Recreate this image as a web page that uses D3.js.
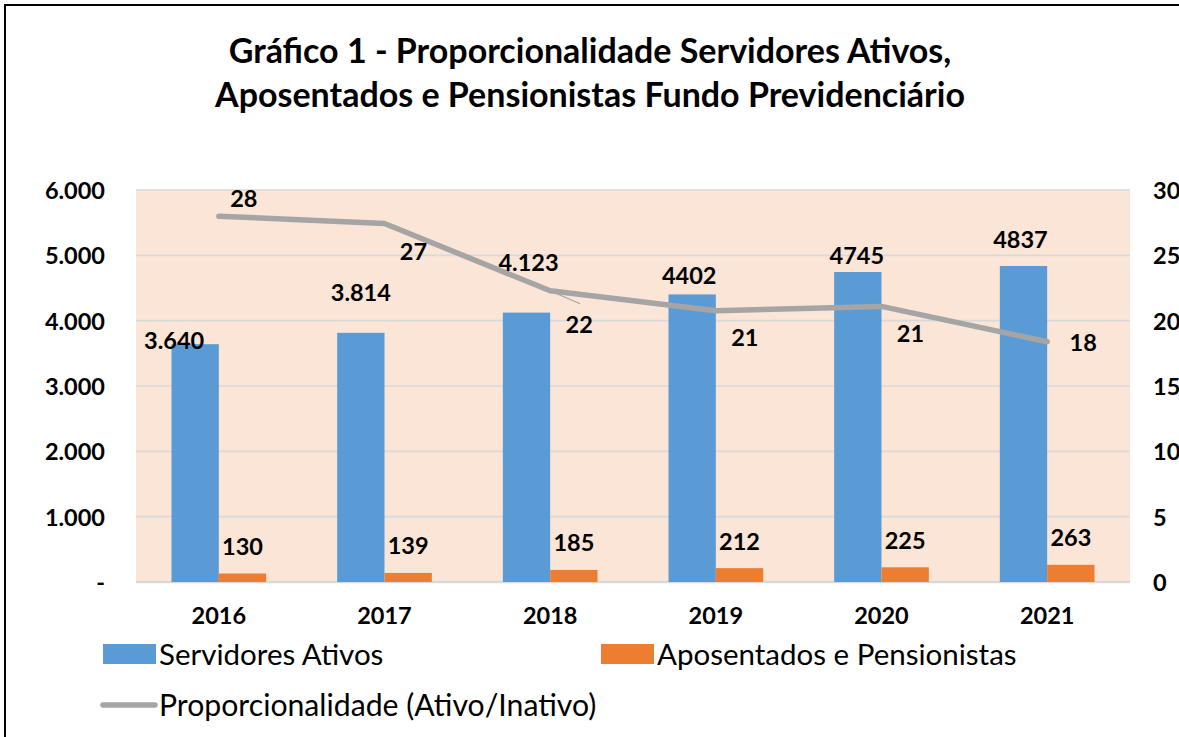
<!DOCTYPE html>
<html>
<head>
<meta charset="utf-8">
<script src="https://cdn.jsdelivr.net/npm/d3@7"></script>
<style>
  body { margin: 0; background: #fff; }
  svg { display: block; }
</style>
</head>
<body>
<script>
// data
var years = ["2016", "2017", "2018", "2019", "2020", "2021"];
var ativos = [3640, 3814, 4123, 4402, 4745, 4837];
var ativosLabels = ["3.640", "3.814", "4.123", "4402", "4745", "4837"];
var inativos = [130, 139, 185, 212, 225, 263];
var proporcao = [28.00, 27.44, 22.29, 20.76, 21.09, 18.39];
var leftTicks = [0, 1000, 2000, 3000, 4000, 5000, 6000];
var leftTickLabels = ["-", "1.000", "2.000", "3.000", "4.000", "5.000", "6.000"];
var rightTicks = [0, 5, 10, 15, 20, 25, 30];

// label placement (Excel had these dragged by hand)
var ativosLabelShift = [[-21, -4], [0, -40], [2, -50], [-3, -19], [-1, -16], [-3, -26]];
var propLabelShift = [[25, -18], [29, 28], [29, 34], [29, 27], [29, 27], [36, 1]];

var width = 1179, height = 737;
var fontBold = "Lato, 'Open Sans', sans-serif";

var svg = d3.select("body").append("svg")
    .attr("width", width)
    .attr("height", height);

svg.append("rect")
    .attr("x", 5).attr("y", 5)
    .attr("width", width).attr("height", height + 10)
    .attr("fill", "#fff")
    .attr("stroke", "#000")
    .attr("stroke-width", 2);

var plot = { left: 136, right: 1130, top: 190, bottom: 582 };

var x = d3.scaleBand().domain(years).range([plot.left, plot.right]);
var xs = d3.scaleBand().domain(["a", "i"]).range([0, x.bandwidth()]).paddingOuter(0.75);
var yL = d3.scaleLinear().domain([0, 6000]).range([plot.bottom, plot.top]);
var yR = d3.scaleLinear().domain([0, 30]).range([plot.bottom, plot.top]);

// title
var title = svg.append("text")
    .attr("text-anchor", "middle")
    .attr("font-family", fontBold)
    .attr("font-weight", "bold")
    .attr("font-size", 34)
    .attr("fill", "#000");
title.append("tspan").attr("x", 590).attr("y", 63).text("Gráfico 1 - Proporcionalidade Servidores Ativos,");
title.append("tspan").attr("x", 590).attr("y", 107).text("Aposentados e Pensionistas Fundo Previdenciário");

// plot background
svg.append("rect")
    .attr("x", plot.left).attr("y", plot.top)
    .attr("width", plot.right - plot.left)
    .attr("height", plot.bottom - plot.top)
    .attr("fill", "#FBE5D6");

svg.append("g").selectAll("line")
    .data(leftTicks)
    .join("line")
    .attr("x1", plot.left).attr("x2", plot.right)
    .attr("y1", d => yL(d)).attr("y2", d => yL(d))
    .attr("stroke", "#D9D9D9")
    .attr("stroke-width", d => d === 0 ? 2.5 : 1.6);

// axes
var leftAxis = svg.append("g")
    .attr("transform", `translate(${plot.left - 31},0)`)
    .call(d3.axisLeft(yL).tickValues(leftTicks).tickSize(0).tickPadding(0)
        .tickFormat((d, i) => leftTickLabels[i]));
leftAxis.select(".domain").remove();

var rightAxis = svg.append("g")
    .attr("transform", `translate(${plot.right + 23},0)`)
    .call(d3.axisRight(yR).tickValues(rightTicks).tickSize(0).tickPadding(0));
rightAxis.select(".domain").remove();

var bottomAxis = svg.append("g")
    .attr("transform", `translate(0,${plot.bottom + 34})`)
    .call(d3.axisBottom(x).tickSize(0).tickPadding(0));
bottomAxis.select(".domain").remove();

svg.selectAll(".tick text")
    .attr("font-family", fontBold)
    .attr("font-weight", "bold")
    .attr("font-size", 23.5)
    .attr("fill", "#000");
leftAxis.selectAll(".tick text").attr("dy", "0.36em");
rightAxis.selectAll(".tick text").attr("dy", "0.36em");
bottomAxis.selectAll(".tick text").attr("dy", "0.36em");

// bars
var groups = svg.append("g").selectAll("g")
    .data(years)
    .join("g")
    .attr("transform", d => `translate(${x(d)},0)`);

groups.append("rect")
    .attr("x", xs("a"))
    .attr("width", xs.bandwidth())
    .attr("y", (d, i) => yL(ativos[i]))
    .attr("height", (d, i) => yL(0) - yL(ativos[i]))
    .attr("fill", "#5B9BD5");

groups.append("rect")
    .attr("x", xs("i"))
    .attr("width", xs.bandwidth())
    .attr("y", (d, i) => yL(inativos[i]))
    .attr("height", (d, i) => yL(0) - yL(inativos[i]))
    .attr("fill", "#ED7D31");

// line
var linePts = years.map((d, i) => [x(d) + x.bandwidth() / 2, yR(proporcao[i])]);

// leader line for the 2018 label
svg.append("line")
    .attr("x1", linePts[2][0] + 2).attr("y1", linePts[2][1] + 1)
    .attr("x2", linePts[2][0] + 30).attr("y2", linePts[2][1] + 13)
    .attr("stroke", "#A5A5A5")
    .attr("stroke-width", 1.2);

svg.append("path")
    .datum(linePts)
    .attr("d", d3.line())
    .attr("fill", "none")
    .attr("stroke", "#A5A5A5")
    .attr("stroke-width", 5.5)
    .attr("stroke-linejoin", "round")
    .attr("stroke-linecap", "round");

// data labels
function label(sel) {
    return sel.attr("text-anchor", "middle")
        .attr("dy", "0.36em")
        .attr("font-family", fontBold)
        .attr("font-weight", "bold")
        .attr("font-size", 23.5)
        .attr("fill", "#000");
}

svg.append("g").selectAll("text")
    .data(years)
    .join("text")
    .call(label)
    .attr("x", (d, i) => x(d) + xs("a") + xs.bandwidth() / 2 + ativosLabelShift[i][0])
    .attr("y", (d, i) => yL(ativos[i]) + ativosLabelShift[i][1])
    .text((d, i) => ativosLabels[i]);

svg.append("g").selectAll("text")
    .data(years)
    .join("text")
    .call(label)
    .attr("x", d => x(d) + xs("i") + xs.bandwidth() / 2)
    .attr("y", (d, i) => yL(inativos[i]) - 27)
    .text((d, i) => inativos[i]);

svg.append("g").selectAll("text")
    .data(years)
    .join("text")
    .call(label)
    .attr("x", (d, i) => linePts[i][0] + propLabelShift[i][0])
    .attr("y", (d, i) => linePts[i][1] + propLabelShift[i][1])
    .text((d, i) => Math.round(proporcao[i]));

// legend
var legend = svg.append("g")
    .attr("font-family", fontBold)
    .attr("font-size", 29.5)
    .attr("fill", "#000");

var legendItems = [
    { name: "Servidores Ativos", color: "#5B9BD5", x: 103, y: 654, kind: "rect" },
    { name: "Aposentados e Pensionistas", color: "#ED7D31", x: 601, y: 654, kind: "rect" },
    { name: "Proporcionalidade (Ativo/Inativo)", color: "#A5A5A5", x: 103, y: 705, kind: "line" }
];

legendItems.forEach(function (it) {
    if (it.kind === "rect") {
        legend.append("rect")
            .attr("x", it.x).attr("y", it.y - 10)
            .attr("width", 53).attr("height", 20)
            .attr("fill", it.color);
    } else {
        legend.append("line")
            .attr("x1", it.x).attr("x2", it.x + 52)
            .attr("y1", it.y).attr("y2", it.y)
            .attr("stroke", it.color)
            .attr("stroke-width", 5.5)
            .attr("stroke-linecap", "round");
    }
    legend.append("text")
        .attr("x", it.x + 56)
        .attr("y", it.y)
        .attr("dy", "0.36em")
        .attr("font-size", it.kind === "line" ? 30.2 : null)
        .text(it.name);
});
</script>
</body>
</html>
